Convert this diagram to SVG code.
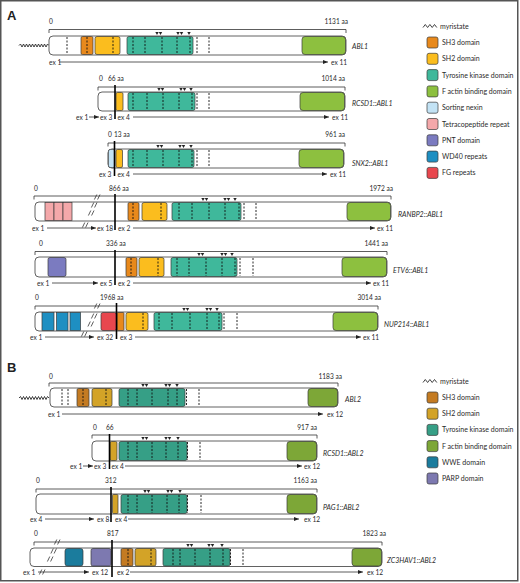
<svg xmlns="http://www.w3.org/2000/svg" xmlns:xlink="http://www.w3.org/1999/xlink" width="520" height="583" viewBox="0 0 520 583">
<style>
.t{font-family:Lato,"Open Sans","Liberation Sans",sans-serif;font-size:6.6px;fill:#2a2a2a}
.lg{font-family:Lato,"Open Sans","Liberation Sans",sans-serif;font-size:7px;fill:#2a2a2a}
.it{font-family:Lato,"Open Sans","Liberation Sans",sans-serif;font-size:7px;font-style:italic;fill:#2a2a2a}
.pl{font-family:"Liberation Sans",Arial,sans-serif;font-size:13px;font-weight:bold;fill:#222}
.box{fill:#fff;stroke:#3a3a3a;stroke-width:0.8}
.dm{stroke:#3a3a3a;stroke-width:0.7}
.ds{stroke:#111;stroke-width:0.9;stroke-dasharray:2 1.5}
.br{fill:none;stroke:#333;stroke-width:0.8}
.ex{stroke:#333;stroke-width:0.8;marker-end:url(#ah)}
.fu{stroke:#000;stroke-width:1.6}
.zz{fill:none;stroke:#222;stroke-width:0.85}
.bk{fill:none;stroke:#333;stroke-width:0.8}
.tr{fill:#222}
.sh3{fill:#E8891C}.sh2{fill:#FBBD1E}.tk{fill:#3FB89B}.fa{fill:#8DC03F}.snx{fill:#C3E3F5}.tpr{fill:#F4A8AA}.pnt{fill:#7B7BC0}.wd{fill:#1E8FC2}.fg{fill:#E8474E}
.bsh3{fill:url(#pSH3)}.bsh2{fill:url(#pSH2)}.btk{fill:url(#pTK)}.bfa{fill:url(#pFA)}.bww{fill:url(#pWW)}.bpa{fill:url(#pPA)}
</style>
<defs>
<marker id="ah" markerUnits="userSpaceOnUse" markerWidth="5" markerHeight="4" refX="5" refY="2" orient="auto"><path d="M0,0 L5,2 L0,4 Z" fill="#222"/></marker>
<path id="tri" d="M-1.7,-3 H1.7 L0,0 Z"/>
<polyline id="myr" points="0,0 1.5,-1.5 3,1.5 4.5,-1.5 6,1.5 7.5,-1.5 9,1.5 10.5,-1.5 12,1.5 13.5,-1.5 15,1.5 16.5,-1.5 18,1.5 19.5,-1.5 21,1.5 22.5,-1.5 24,1.5 25.5,-1.5 27,1.5 28.5,-1.5 30,0"/>
<polyline id="myrl" points="0,1.5 2.3,-1.5 4.6,1.5 6.9,-1.5 9.2,1.5 11.5,-1.5 13.8,1.5"/>
<path id="brk" d="M-2.6,2.5 L-0.2,-2.5 M0.6,2.5 L3,-2.5"/>
<pattern id="pSH3" width="2" height="2" patternUnits="userSpaceOnUse"><rect width="2" height="2" fill="#DC8A26"/><path d="M0,0 L2,2 M2,0 L0,2" stroke="#000" stroke-opacity="0.22" stroke-width="0.5"/></pattern>
<pattern id="pSH2" width="2" height="2" patternUnits="userSpaceOnUse"><rect width="2" height="2" fill="#EDB72C"/><path d="M0,0 L2,2 M2,0 L0,2" stroke="#000" stroke-opacity="0.22" stroke-width="0.5"/></pattern>
<pattern id="pTK" width="2" height="2" patternUnits="userSpaceOnUse"><rect width="2" height="2" fill="#3DB396"/><path d="M0,0 L2,2 M2,0 L0,2" stroke="#000" stroke-opacity="0.22" stroke-width="0.5"/></pattern>
<pattern id="pFA" width="2" height="2" patternUnits="userSpaceOnUse"><rect width="2" height="2" fill="#8CBC3E"/><path d="M0,0 L2,2 M2,0 L0,2" stroke="#000" stroke-opacity="0.22" stroke-width="0.5"/></pattern>
<pattern id="pWW" width="2" height="2" patternUnits="userSpaceOnUse"><rect width="2" height="2" fill="#1E8BB0"/><path d="M0,0 L2,2 M2,0 L0,2" stroke="#000" stroke-opacity="0.22" stroke-width="0.5"/></pattern>
<pattern id="pPA" width="2" height="2" patternUnits="userSpaceOnUse"><rect width="2" height="2" fill="#8C88C6"/><path d="M0,0 L2,2 M2,0 L0,2" stroke="#000" stroke-opacity="0.22" stroke-width="0.5"/></pattern>
</defs>
<rect x="0.75" y="0.75" width="517" height="580" fill="#fff" stroke="#555" stroke-width="1.5"/>
<text class="pl" x="7" y="20">A</text>
<text class="pl" x="7" y="372">B</text>

<!-- ABL1 -->
<g id="row-ABL1">
<text class="t" x="49" y="24">0</text><text class="t" x="348" y="24" text-anchor="end">1131 aa</text>
<path class="br" d="M49,33 V29.5 H346 V33"/>
<use href="#myr" x="19" y="45.5" class="zz"/>
<rect class="box" x="49" y="36" width="297" height="19" rx="4"/>
<rect class="dm sh3" x="81" y="36.5" width="12" height="18" rx="1.5"/>
<rect class="dm sh2" x="95" y="36.5" width="25" height="18" rx="2"/>
<rect class="dm tk" x="127" y="36.5" width="66" height="18" rx="2"/>
<rect class="dm fa" x="302" y="36.5" width="43.5" height="18" rx="3"/>
<g class="ds"><line x1="67" y1="37" x2="67" y2="54"/><line x1="87" y1="37" x2="87" y2="54"/><line x1="113" y1="37" x2="113" y2="54"/><line x1="133" y1="37" x2="133" y2="54"/><line x1="145" y1="37" x2="145" y2="54"/><line x1="162" y1="37" x2="162" y2="54"/><line x1="177" y1="37" x2="177" y2="54"/><line x1="190" y1="37" x2="190" y2="54"/><line x1="197" y1="37" x2="197" y2="54"/><line x1="209" y1="37" x2="209" y2="54"/></g>
<g class="tr"><use href="#tri" x="157" y="35"/><use href="#tri" x="160.5" y="35"/><use href="#tri" x="178" y="35"/><use href="#tri" x="181.5" y="35"/><use href="#tri" x="189" y="35"/></g>
<text class="t" x="49" y="64.5">ex 1</text><line class="ex" x1="59" y1="62" x2="328" y2="62"/><text class="t" x="331" y="64.5">ex 11</text>
<text class="it" x="352" y="48.5">ABL1</text>
</g>

<!-- RCSD1::ABL1 -->
<g id="row-RCSD1-ABL1">
<text class="t" x="99" y="81">0</text><text class="t" x="108" y="81">66 aa</text><text class="t" x="345" y="81" text-anchor="end">1014 aa</text>
<path class="br" d="M98,90.5 V87 H345 V90.5"/>
<rect class="box" x="98" y="92" width="247" height="19" rx="4"/>
<rect class="dm sh2" x="116" y="92.5" width="7" height="18" rx="1.5"/>
<rect class="dm tk" x="128" y="92.5" width="67" height="18" rx="2"/>
<rect class="dm fa" x="300" y="92.5" width="44.5" height="18" rx="3"/>
<g class="ds"><line x1="133" y1="93" x2="133" y2="110"/><line x1="147" y1="93" x2="147" y2="110"/><line x1="163" y1="93" x2="163" y2="110"/><line x1="179" y1="93" x2="179" y2="110"/><line x1="192" y1="93" x2="192" y2="110"/><line x1="197" y1="93" x2="197" y2="110"/><line x1="209" y1="93" x2="209" y2="110"/></g>
<line class="fu" x1="115" y1="85" x2="115" y2="119"/>
<g class="tr"><use href="#tri" x="159" y="91"/><use href="#tri" x="162.5" y="91"/><use href="#tri" x="181" y="91"/><use href="#tri" x="184.5" y="91"/><use href="#tri" x="191" y="91"/></g>
<text class="t" x="76" y="119.5">ex 1</text><line class="ex" x1="89" y1="117" x2="99" y2="117"/><text class="t" x="100" y="119.5">ex 3</text>
<text class="t" x="117.5" y="119.5">ex 4</text><line class="ex" x1="133" y1="117" x2="329" y2="117"/><text class="t" x="332" y="119.5">ex 11</text>
<text class="it" x="352" y="105.5">RCSD1::ABL1</text>
</g>

<!-- SNX2::ABL1 -->
<g id="row-SNX2-ABL1">
<text class="t" x="108" y="137">0</text><text class="t" x="114" y="137">13 aa</text><text class="t" x="345" y="137" text-anchor="end">961 aa</text>
<path class="br" d="M108,146.5 V143 H345 V146.5"/>
<rect class="box" x="108" y="149" width="236" height="19" rx="4"/>
<rect class="dm snx" x="108.4" y="149.4" width="6.5" height="18.2" rx="2"/>
<rect class="dm sh2" x="116" y="149.5" width="6.5" height="18" rx="1.5"/>
<rect class="dm tk" x="128" y="149.5" width="66" height="18" rx="2"/>
<rect class="dm fa" x="299" y="149.5" width="44.5" height="18" rx="3"/>
<g class="ds"><line x1="133" y1="150" x2="133" y2="167"/><line x1="147" y1="150" x2="147" y2="167"/><line x1="163" y1="150" x2="163" y2="167"/><line x1="179" y1="150" x2="179" y2="167"/><line x1="192" y1="150" x2="192" y2="167"/><line x1="197" y1="150" x2="197" y2="167"/><line x1="209" y1="150" x2="209" y2="167"/></g>
<line class="fu" x1="114.5" y1="141" x2="114.5" y2="176"/>
<g class="tr"><use href="#tri" x="158" y="148"/><use href="#tri" x="161.5" y="148"/><use href="#tri" x="180" y="148"/><use href="#tri" x="183.5" y="148"/><use href="#tri" x="191" y="148"/></g>
<text class="t" x="99" y="176.5">ex 3</text>
<text class="t" x="117.5" y="176.5">ex 4</text><line class="ex" x1="133" y1="174" x2="327" y2="174"/><text class="t" x="330" y="176.5">ex 11</text>
<text class="it" x="352" y="166">SNX2::ABL1</text>
</g>

<!-- RANBP2::ABL1 -->
<g id="row-RANBP2-ABL1">
<text class="t" x="34" y="191">0</text><text class="t" x="109" y="191">866 aa</text><text class="t" x="393" y="191" text-anchor="end">1972 aa</text>
<path class="br" d="M34,199.5 V196 H391 V199.5"/>
<rect class="box" x="35" y="202" width="356" height="19" rx="4"/>
<rect class="dm tpr" x="45" y="202.5" width="9" height="18"/>
<rect class="dm tpr" x="54" y="202.5" width="9" height="18"/>
<rect class="dm tpr" x="63" y="202.5" width="9" height="18"/>
<rect class="dm sh3" x="128" y="202.5" width="11" height="18" rx="1.5"/>
<rect class="dm sh2" x="142" y="202.5" width="25" height="18" rx="2"/>
<rect class="dm tk" x="172" y="202.5" width="69" height="18" rx="2"/>
<rect class="dm fa" x="347" y="202.5" width="43.5" height="18" rx="3"/>
<g class="ds"><line x1="133" y1="203" x2="133" y2="220"/><line x1="161" y1="203" x2="161" y2="220"/><line x1="179" y1="203" x2="179" y2="220"/><line x1="192" y1="203" x2="192" y2="220"/><line x1="209" y1="203" x2="209" y2="220"/><line x1="225" y1="203" x2="225" y2="220"/><line x1="239" y1="203" x2="239" y2="220"/><line x1="244" y1="203" x2="244" y2="220"/><line x1="256" y1="203" x2="256" y2="220"/></g>
<line class="fu" x1="115" y1="194" x2="115" y2="230"/>
<g class="bk"><use href="#brk" x="97" y="197"/><use href="#brk" x="94" y="205"/><use href="#brk" x="91" y="213"/><use href="#brk" x="85" y="225"/></g>
<g class="tr"><use href="#tri" x="203" y="201"/><use href="#tri" x="206.5" y="201"/><use href="#tri" x="225" y="201"/><use href="#tri" x="228.5" y="201"/><use href="#tri" x="235" y="201"/></g>
<text class="t" x="32" y="230.5">ex 1</text><line class="ex" x1="47" y1="228" x2="96" y2="228"/><text class="t" x="97" y="230.5">ex 18</text>
<text class="t" x="118" y="230.5">ex 2</text><line class="ex" x1="133" y1="228" x2="375" y2="228"/><text class="t" x="377" y="230.5">ex 11</text>
<text class="it" x="398" y="217">RANBP2::ABL1</text>
</g>

<!-- ETV6::ABL1 -->
<g id="row-ETV6-ABL1">
<text class="t" x="39" y="246">0</text><text class="t" x="106" y="246">336 aa</text><text class="t" x="388" y="246" text-anchor="end">1441 aa</text>
<path class="br" d="M35,255 V251.5 H387 V255"/>
<rect class="box" x="35" y="257" width="352" height="20" rx="4"/>
<rect class="dm pnt" x="48" y="257.5" width="18" height="19" rx="2"/>
<rect class="dm sh3" x="126" y="257.5" width="11" height="19" rx="1.5"/>
<rect class="dm sh2" x="139" y="257.5" width="25" height="19" rx="2"/>
<rect class="dm tk" x="171" y="257.5" width="66" height="19" rx="2"/>
<rect class="dm fa" x="342" y="257.5" width="44.5" height="19" rx="3"/>
<g class="ds"><line x1="131" y1="258" x2="131" y2="276"/><line x1="158" y1="258" x2="158" y2="276"/><line x1="177" y1="258" x2="177" y2="276"/><line x1="189" y1="258" x2="189" y2="276"/><line x1="206" y1="258" x2="206" y2="276"/><line x1="222" y1="258" x2="222" y2="276"/><line x1="235" y1="258" x2="235" y2="276"/><line x1="240" y1="258" x2="240" y2="276"/><line x1="253" y1="258" x2="253" y2="276"/></g>
<line class="fu" x1="115" y1="250" x2="115" y2="285"/>
<g class="tr"><use href="#tri" x="199" y="256"/><use href="#tri" x="202.5" y="256"/><use href="#tri" x="222" y="256"/><use href="#tri" x="225.5" y="256"/><use href="#tri" x="232" y="256"/></g>
<text class="t" x="37" y="285.5">ex 1</text><line class="ex" x1="52" y1="283" x2="98" y2="283"/><text class="t" x="100" y="285.5">ex 5</text>
<text class="t" x="118" y="285.5">ex 2</text><line class="ex" x1="133" y1="283" x2="371" y2="283"/><text class="t" x="373" y="285.5">ex 11</text>
<text class="it" x="393" y="272.5">ETV6::ABL1</text>
</g>

<!-- NUP214::ABL1 -->
<g id="row-NUP214-ABL1">
<text class="t" x="35" y="300">0</text><text class="t" x="100" y="300">1968 aa</text><text class="t" x="381" y="300" text-anchor="end">3014 aa</text>
<path class="br" d="M35,309.5 V306 H378 V309.5"/>
<rect class="box" x="35" y="312" width="343" height="19" rx="4"/>
<rect class="dm wd" x="42" y="312.5" width="12" height="18"/>
<rect class="dm wd" x="56.5" y="312.5" width="11.5" height="18"/>
<rect class="dm wd" x="70" y="312.5" width="10.5" height="18"/>
<rect class="dm fg" x="101" y="312.5" width="15.5" height="18" rx="2"/>
<rect class="dm sh3" x="117" y="312.5" width="7" height="18" rx="1"/>
<rect class="dm sh2" x="126" y="312.5" width="22" height="18" rx="2"/>
<rect class="dm tk" x="154" y="312.5" width="68" height="18" rx="2"/>
<rect class="dm fa" x="333" y="312.5" width="44.5" height="18" rx="3"/>
<g class="ds"><line x1="143" y1="313" x2="143" y2="330"/><line x1="159" y1="313" x2="159" y2="330"/><line x1="172" y1="313" x2="172" y2="330"/><line x1="190" y1="313" x2="190" y2="330"/><line x1="207" y1="313" x2="207" y2="330"/><line x1="219" y1="313" x2="219" y2="330"/><line x1="224" y1="313" x2="224" y2="330"/><line x1="237" y1="313" x2="237" y2="330"/></g>
<line class="fu" x1="116.5" y1="303" x2="116.5" y2="339"/>
<g class="bk"><use href="#brk" x="97" y="306"/><use href="#brk" x="94" y="316"/><use href="#brk" x="90.5" y="324"/><use href="#brk" x="84" y="334"/></g>
<g class="tr"><use href="#tri" x="184" y="311"/><use href="#tri" x="187.5" y="311"/><use href="#tri" x="207" y="311"/><use href="#tri" x="210.5" y="311"/><use href="#tri" x="217" y="311"/></g>
<text class="t" x="30" y="339.5">ex 1</text><line class="ex" x1="45" y1="337" x2="94" y2="337"/><text class="t" x="97" y="339.5">ex 32</text>
<text class="t" x="120" y="339.5">ex 3</text><line class="ex" x1="135" y1="337" x2="361" y2="337"/><text class="t" x="363" y="339.5">ex 11</text>
<text class="it" x="384" y="326.5">NUP214::ABL1</text>
</g>

<!-- Legend A -->
<g id="legend-A">
<use href="#myrl" x="423" y="26" class="zz"/><text class="lg" x="440" y="29">myristate</text>
<rect class="dm sh3" x="427" y="37" width="11" height="11" rx="2"/><text class="lg" x="442" y="45">SH3 domain</text>
<rect class="dm sh2" x="427" y="53.3" width="11" height="11" rx="2"/><text class="lg" x="442" y="61.3">SH2 domain</text>
<rect class="dm tk" x="427" y="69.6" width="11" height="11" rx="2"/><text class="lg" x="442" y="77.6">Tyrosine kinase domain</text>
<rect class="dm fa" x="427" y="85.9" width="11" height="11" rx="2"/><text class="lg" x="442" y="93.9">F actin binding domain</text>
<rect class="dm snx" x="427" y="102.2" width="11" height="11" rx="2"/><text class="lg" x="442" y="110.2">Sorting nexin</text>
<rect class="dm tpr" x="427" y="118.5" width="11" height="11" rx="2"/><text class="lg" x="442" y="126.5">Tetracopeptide repeat</text>
<rect class="dm pnt" x="427" y="134.8" width="11" height="11" rx="2"/><text class="lg" x="442" y="142.8">PNT domain</text>
<rect class="dm wd" x="427" y="151.1" width="11" height="11" rx="2"/><text class="lg" x="442" y="159.1">WD40 repeats</text>
<rect class="dm fg" x="427" y="167.4" width="11" height="11" rx="2"/><text class="lg" x="442" y="175.4">FG repeats</text>
</g>

<!-- ABL2 -->
<g id="row-ABL2">
<text class="t" x="49" y="379">0</text><text class="t" x="342" y="379" text-anchor="end">1183 aa</text>
<path class="br" d="M49,386.5 V383 H338 V386.5"/>
<use href="#myr" x="19" y="398" class="zz"/>
<rect class="box" x="50" y="388" width="288" height="19" rx="4"/>
<rect class="dm bsh3" x="77" y="388.5" width="12" height="18" rx="1.5"/>
<rect class="dm bsh2" x="92" y="388.5" width="20" height="18" rx="2"/>
<rect class="dm btk" x="119" y="388.5" width="66" height="18" rx="2"/>
<rect class="dm bfa" x="308" y="388.5" width="29.5" height="18" rx="3"/>
<g class="ds"><line x1="62" y1="389" x2="62" y2="406"/><line x1="68" y1="389" x2="68" y2="406"/><line x1="83" y1="389" x2="83" y2="406"/><line x1="106" y1="389" x2="106" y2="406"/><line x1="128" y1="389" x2="128" y2="406"/><line x1="137" y1="389" x2="137" y2="406"/><line x1="152" y1="389" x2="152" y2="406"/><line x1="168" y1="389" x2="168" y2="406"/><line x1="177" y1="389" x2="177" y2="406"/><line x1="186.5" y1="389" x2="186.5" y2="406"/><line x1="199" y1="389" x2="199" y2="406"/></g>
<g class="tr"><use href="#tri" x="143" y="387"/><use href="#tri" x="146.5" y="387"/><use href="#tri" x="166" y="387"/><use href="#tri" x="169.5" y="387"/><use href="#tri" x="177" y="387"/></g>
<text class="t" x="48" y="416.5">ex 1</text><line class="ex" x1="62" y1="414" x2="323" y2="414"/><text class="t" x="327" y="416.5">ex 12</text>
<text class="it" x="345" y="402">ABL2</text>
</g>

<!-- RCSD1::ABL2 -->
<g id="row-RCSD1-ABL2">
<text class="t" x="93" y="430">0</text><text class="t" x="106" y="430">66</text><text class="t" x="317" y="430" text-anchor="end">917 aa</text>
<path class="br" d="M92,438.5 V435 H317 V438.5"/>
<rect class="box" x="92" y="441" width="225" height="20" rx="4"/>
<rect class="dm bsh2" x="110" y="441.5" width="7" height="19" rx="1.5"/>
<rect class="dm btk" x="119" y="441.5" width="68" height="19" rx="2"/>
<rect class="dm bfa" x="287" y="441.5" width="29.5" height="19" rx="3"/>
<g class="ds"><line x1="128" y1="442" x2="128" y2="460"/><line x1="137" y1="442" x2="137" y2="460"/><line x1="152" y1="442" x2="152" y2="460"/><line x1="166" y1="442" x2="166" y2="460"/><line x1="178" y1="442" x2="178" y2="460"/><line x1="187.5" y1="442" x2="187.5" y2="460"/><line x1="200" y1="442" x2="200" y2="460"/></g>
<line class="fu" x1="109.5" y1="434" x2="109.5" y2="469"/>
<g class="tr"><use href="#tri" x="143" y="440"/><use href="#tri" x="146.5" y="440"/><use href="#tri" x="166" y="440"/><use href="#tri" x="169.5" y="440"/><use href="#tri" x="178" y="440"/></g>
<text class="t" x="70" y="468.5">ex 1</text><line class="ex" x1="83" y1="466" x2="93" y2="466"/><text class="t" x="94" y="468.5">ex 3</text>
<text class="t" x="111.5" y="468.5">ex 4</text><line class="ex" x1="125" y1="466" x2="302" y2="466"/><text class="t" x="304" y="468.5">ex 12</text>
<text class="it" x="323" y="455.5">RCSD1::ABL2</text>
</g>

<!-- PAG1::ABL2 -->
<g id="row-PAG1-ABL2">
<text class="t" x="36" y="483">0</text><text class="t" x="105" y="483">312</text><text class="t" x="317" y="483" text-anchor="end">1163 aa</text>
<path class="br" d="M36,492.5 V489 H317 V492.5"/>
<rect class="box" x="36" y="494" width="281" height="20" rx="4"/>
<rect class="dm bsh2" x="112.5" y="494.5" width="5.5" height="19" rx="1"/>
<rect class="dm btk" x="121" y="494.5" width="66" height="19" rx="2"/>
<rect class="dm bfa" x="287" y="494.5" width="29.5" height="19" rx="3"/>
<g class="ds"><line x1="128" y1="495" x2="128" y2="513"/><line x1="137" y1="495" x2="137" y2="513"/><line x1="152" y1="495" x2="152" y2="513"/><line x1="167" y1="495" x2="167" y2="513"/><line x1="179" y1="495" x2="179" y2="513"/><line x1="187.5" y1="495" x2="187.5" y2="513"/><line x1="201" y1="495" x2="201" y2="513"/></g>
<line class="fu" x1="111" y1="487" x2="111" y2="522"/>
<g class="tr"><use href="#tri" x="145" y="493"/><use href="#tri" x="148.5" y="493"/><use href="#tri" x="168" y="493"/><use href="#tri" x="171.5" y="493"/><use href="#tri" x="180" y="493"/></g>
<text class="t" x="30" y="521.5">ex 4</text><line class="ex" x1="45" y1="519" x2="94" y2="519"/><text class="t" x="97" y="521.5">ex 8</text>
<text class="t" x="115" y="521.5">ex 4</text><line class="ex" x1="128" y1="519" x2="299" y2="519"/><text class="t" x="304" y="521.5">ex 12</text>
<text class="it" x="323" y="509.5">PAG1::ABL2</text>
</g>

<!-- ZC3HAV1::ABL2 -->
<g id="row-ZC3HAV1-ABL2">
<text class="t" x="34" y="536">0</text><text class="t" x="107" y="536">817</text><text class="t" x="386" y="536" text-anchor="end">1823 aa</text>
<path class="br" d="M34,545.5 V542 H382 V545.5"/>
<rect class="box" x="30" y="548" width="352" height="18.5" rx="4"/>
<rect class="dm bww" x="65" y="548.5" width="18" height="17.5" rx="2.5"/>
<rect class="dm bpa" x="91" y="548.5" width="20" height="17.5" rx="2"/>
<rect class="dm bsh3" x="121" y="548.5" width="12" height="17.5" rx="1.5"/>
<rect class="dm bsh2" x="135" y="548.5" width="21" height="17.5" rx="2"/>
<rect class="dm btk" x="163" y="548.5" width="67" height="17.5" rx="2"/>
<rect class="dm bfa" x="352" y="548.5" width="29.5" height="17.5" rx="3"/>
<g class="ds"><line x1="128" y1="549" x2="128" y2="565.5"/><line x1="151" y1="549" x2="151" y2="565.5"/><line x1="173" y1="549" x2="173" y2="565.5"/><line x1="180" y1="549" x2="180" y2="565.5"/><line x1="195" y1="549" x2="195" y2="565.5"/><line x1="210" y1="549" x2="210" y2="565.5"/><line x1="223" y1="549" x2="223" y2="565.5"/><line x1="230.5" y1="549" x2="230.5" y2="565.5"/><line x1="243" y1="549" x2="243" y2="565.5"/></g>
<line class="fu" x1="112" y1="540" x2="112" y2="577"/>
<g class="bk"><use href="#brk" x="57" y="542"/><use href="#brk" x="53.5" y="551"/><use href="#brk" x="50" y="559"/><use href="#brk" x="42" y="572"/></g>
<g class="tr"><use href="#tri" x="188" y="547"/><use href="#tri" x="191.5" y="547"/><use href="#tri" x="209" y="547"/><use href="#tri" x="212.5" y="547"/><use href="#tri" x="222" y="547"/></g>
<text class="t" x="23" y="574.5">ex 1</text><line class="ex" x1="38" y1="572" x2="89" y2="572"/><text class="t" x="92" y="574.5">ex 12</text>
<text class="t" x="117" y="574.5">ex 2</text><line class="ex" x1="130" y1="572" x2="363" y2="572"/><text class="t" x="367" y="574.5">ex 12</text>
<text class="it" x="387" y="562.5">ZC3HAV1::ABL2</text>
</g>

<!-- Legend B -->
<g id="legend-B">
<use href="#myrl" x="423" y="381" class="zz"/><text class="lg" x="440" y="384">myristate</text>
<rect class="dm bsh3" x="427" y="392" width="11" height="11" rx="2"/><text class="lg" x="442" y="400">SH3 domain</text>
<rect class="dm bsh2" x="427" y="408.2" width="11" height="11" rx="2"/><text class="lg" x="442" y="416.2">SH2 domain</text>
<rect class="dm btk" x="427" y="424.4" width="11" height="11" rx="2"/><text class="lg" x="442" y="432.4">Tyrosine kinase domain</text>
<rect class="dm bfa" x="427" y="440.6" width="11" height="11" rx="2"/><text class="lg" x="442" y="448.6">F actin binding domain</text>
<rect class="dm bww" x="427" y="456.8" width="11" height="11" rx="2"/><text class="lg" x="442" y="464.8">WWE domain</text>
<rect class="dm bpa" x="427" y="473" width="11" height="11" rx="2"/><text class="lg" x="442" y="481">PARP domain</text>
</g>
</svg>
